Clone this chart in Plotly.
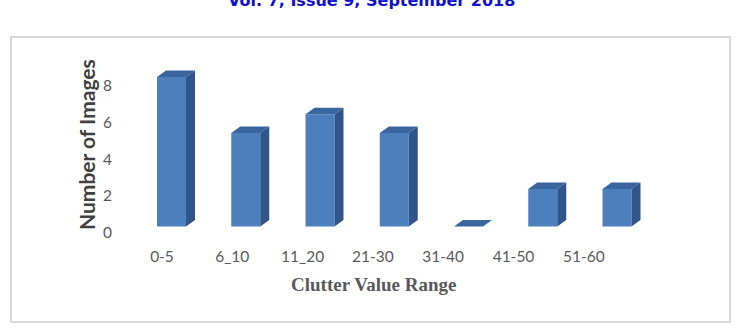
import plotly.graph_objects as go

categories = ["0-5", "6_10", "11_20", "21-30", "31-40", "41-50", "51-60"]
values = [8, 5, 6, 5, 0, 2, 2]
y_ticks = [0, 2, 4, 6, 8]

W, H = 748, 328
L, R, T, B = 113, 660, 50, 245
PW, PH = R - L, B - T

def paper_x(px):
    return (px - L) / PW

def paper_y(py):
    return (B - py) / PH

# 3D look (in data units of the bar axes)
bar_px_per_unit_x = 74.25
bar_px_per_unit_y = 18.7
half_w = 14.5 / bar_px_per_unit_x
dx = 9.0 / bar_px_per_unit_x
dy = 6.5 / bar_px_per_unit_y

front_col = "#4d7fbd"
side_col = "#30558a"
top_col = "#3a659e"

idx = list(range(len(values)))

fig = go.Figure()

# front faces
fig.add_trace(go.Bar(x=idx, y=values, width=2 * half_w, marker=dict(color=front_col, line=dict(width=0)),
                     xaxis="x", yaxis="y", showlegend=False, hoverinfo="skip"))

# side faces
sx, sy = [], []
for i, v in zip(idx, values):
    if v > 0:
        sx += [i + half_w, i + half_w + dx, i + half_w + dx, i + half_w, i + half_w, None]
        sy += [0, dy, v + dy, v, 0, None]
fig.add_trace(go.Scatter(x=sx, y=sy, fill="toself", fillcolor=side_col, mode="lines",
                         line=dict(width=0, color=side_col), xaxis="x", yaxis="y",
                         showlegend=False, hoverinfo="skip"))

# top faces
tx, ty = [], []
for i, v in zip(idx, values):
    tx += [i - half_w, i + half_w, i + half_w + dx, i - half_w + dx, i - half_w, None]
    ty += [v, v, v + dy, v + dy, v, None]
fig.add_trace(go.Scatter(x=tx, y=ty, fill="toself", fillcolor=top_col, mode="lines",
                         line=dict(width=0, color=top_col), xaxis="x", yaxis="y",
                         showlegend=False, hoverinfo="skip"))

# invisible trace carrying category labels and y tick labels
fig.add_trace(go.Scatter(x=categories, y=[0] * len(categories), mode="markers",
                         marker=dict(opacity=0), xaxis="x2", yaxis="y2",
                         showlegend=False, hoverinfo="skip"))

tick_font = dict(family="Lato", size=15.5, color="#595959")

# bar x axis: 74.25 px per category, first bar centre at 171.5 px
bx0 = -(171.5 - L) / bar_px_per_unit_x
bx1 = bx0 + PW / bar_px_per_unit_x
# label axis: 70.3 px per category, first label at 162 px
lab_px = 70.3
lx0 = -(162 - L) / lab_px
lx1 = lx0 + PW / lab_px
# tick y axis: 0 at 232.5, 18.35 px/unit
tick_px = 18.35
ty0 = -(B - 232.5) / tick_px
ty1 = ty0 + PH / tick_px
# bar y axis: 0 at 226.5, 18.7 px/unit
by0 = -(B - 226.5) / bar_px_per_unit_y
by1 = by0 + PH / bar_px_per_unit_y

fig.update_layout(
    width=W, height=H,
    margin=dict(l=L, r=W - R, t=T, b=H - B),
    paper_bgcolor="white", plot_bgcolor="white",
    xaxis=dict(range=[bx0, bx1], showticklabels=False, showgrid=False, zeroline=False,
               showline=False, ticks=""),
    yaxis=dict(range=[by0, by1], showticklabels=False, showgrid=False,
               zeroline=False, showline=False, ticks=""),
    xaxis2=dict(range=[lx0, lx1], overlaying="x", side="bottom", anchor="y2",
                type="category", showgrid=False, zeroline=False, showline=False, ticks="",
                tickfont=tick_font),
    yaxis2=dict(range=[ty0, ty1], overlaying="y", side="left", anchor="x2",
                tickvals=y_ticks, showgrid=False, zeroline=False,
                showline=False, ticks="", tickfont=tick_font),
    shapes=[dict(type="rect", xref="paper", yref="paper",
                 x0=paper_x(11), x1=paper_x(730), y0=paper_y(322), y1=paper_y(37),
                 line=dict(color="#d9d9d9", width=2), fillcolor="rgba(0,0,0,0)", layer="below")],
    annotations=[
        dict(text="<b>Vol. 7, Issue 9, September 2018</b>", xref="paper", yref="paper",
             x=paper_x(371.5), y=paper_y(12), xanchor="center", yanchor="bottom",
             showarrow=False, font=dict(family="DejaVu Sans", size=16, color="#1010d0")),
        dict(text="<b>Number of Images</b>", xref="paper", yref="paper",
             x=paper_x(86), y=paper_y(145), xanchor="center", yanchor="middle", textangle=-90,
             showarrow=False, font=dict(family="Lato", size=21, color="#404040")),
        dict(text="<b>Clutter Value Range</b>", xref="paper", yref="paper",
             x=paper_x(373.5), y=paper_y(284.5), xanchor="center", yanchor="middle",
             showarrow=False, font=dict(family="Liberation Serif", size=19, color="#595959")),
    ],
)

fig.write_html("out.html")
